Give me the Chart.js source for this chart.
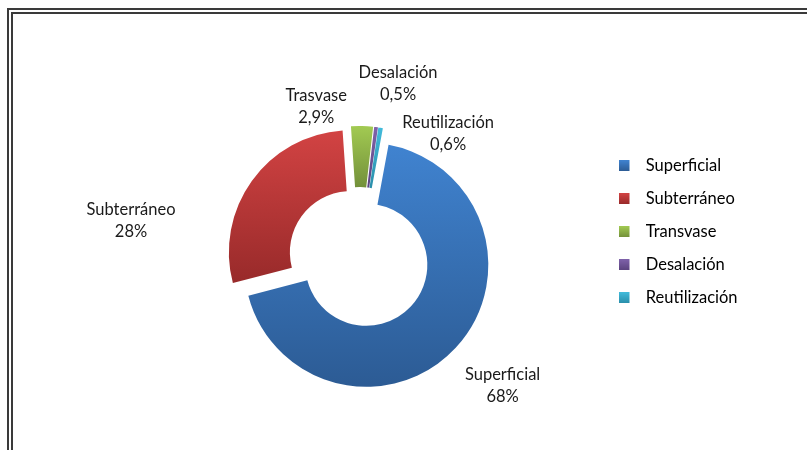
<!DOCTYPE html>
<html>
<head>
<meta charset="utf-8">
<script src="https://cdn.jsdelivr.net/npm/chart.js@4.4.1/dist/chart.umd.min.js"></script>
<style>
  html, body { margin: 0; padding: 0; background: #fff; }
  #marco { position: relative; width: 807px; height: 450px; overflow: hidden; }
  #borde { position: absolute; left: 7px; top: 8px; width: 1000px; height: 700px;
           border-left: 6px double #3a3a3a; border-top: 6px double #3a3a3a; }
  #origenAgua { position: absolute; left: 0; top: 0; }
</style>
</head>
<body>
<div id="marco">
  <div id="borde"></div>
  <canvas id="origenAgua" width="807" height="450"></canvas>
</div>
<script>
// Origen del agua (%)
const categorias = ['Superficial', 'Subterráneo', 'Transvase', 'Desalación', 'Reutilización'];
const etiquetas = ['Superficial', 'Subterráneo', 'Trasvase', 'Desalación', 'Reutilización'];
const porcentajes = [68, 28, 2.9, 0.5, 0.6];

// colores (degradado de arriba a abajo en cada porción)
const colorClaro = ['#4083d0', '#d24343', '#a2ca52', '#7f62aa', '#42bbdb'];
const colorOscuro = ['#2c5b94', '#982a2a', '#73903a', '#5b437e', '#2a8eaa'];

// posición de cada rótulo: [ángulo desde las 12 en grados, distancia al centro]
const posRotulos = [[131.6, 192], [279.3, 231], [344.2, 157], [12.6, 179], [35.6, 153]];

const separacion = 10; // cuánto se separa cada porción del centro
const fuente = 'Lato, "Open Sans", sans-serif';
const tamFuente = 16.5;
const sepLeyenda = 33 - tamFuente;
const anchoSimbolo = 19;
const inicioLeyenda = 602; // borde izquierdo de la leyenda

function formatoPct(v) {
  return (Number.isInteger(v) ? String(v) : v.toFixed(1).replace('.', ',')) + '%';
}

// ancho que ocupará la leyenda, para dejar la dona centrada a su izquierda
const medidor = document.createElement('canvas').getContext('2d');
medidor.font = tamFuente + 'px ' + fuente;
const anchoTexto = Math.max(...categorias.map(c => medidor.measureText(c).width));
const anchoLeyenda = sepLeyenda + anchoSimbolo + tamFuente / 2 + anchoTexto + 10;

// cuadradito de la leyenda con su degradado, dejando hueco a la derecha
function cuadroLeyenda(i) {
  const c = document.createElement('canvas');
  c.width = anchoSimbolo;
  c.height = 11;
  const g = c.getContext('2d');
  const grad = g.createLinearGradient(0, 0, 0, 11);
  grad.addColorStop(0, colorClaro[i]);
  grad.addColorStop(1, colorOscuro[i]);
  g.fillStyle = grad;
  g.fillRect(0, 0, 11, 11);
  return c;
}

// separa las porciones y les pone el degradado vertical
const separar = {
  id: 'separar',
  afterDatasetUpdate(chart, args) {
    const ctx = chart.ctx;
    args.meta.data.forEach((arc, i) => {
      const medio = (arc.startAngle + arc.endAngle) / 2;
      arc.x += Math.cos(medio) * separacion;
      arc.y += Math.sin(medio) * separacion;
      let arriba = Infinity, abajo = -Infinity;
      for (let k = 0; k <= 60; k++) {
        const a = arc.startAngle + (arc.endAngle - arc.startAngle) * k / 60;
        [arc.innerRadius, arc.outerRadius].forEach(r => {
          const y = arc.y + Math.sin(a) * r;
          arriba = Math.min(arriba, y);
          abajo = Math.max(abajo, y);
        });
      }
      const grad = ctx.createLinearGradient(0, arriba, 0, abajo);
      grad.addColorStop(0, colorClaro[i]);
      grad.addColorStop(1, colorOscuro[i]);
      arc.options.backgroundColor = grad;
    });
  }
};

// rótulos de dos líneas: nombre y porcentaje
const rotulos = {
  id: 'rotulos',
  afterDatasetsDraw(chart) {
    const {ctx, chartArea} = chart;
    const cx = (chartArea.left + chartArea.right) / 2;
    const cy = (chartArea.top + chartArea.bottom) / 2;
    ctx.save();
    ctx.font = tamFuente + 'px ' + fuente;
    ctx.fillStyle = '#1a1a1a';
    ctx.textAlign = 'center';
    ctx.textBaseline = 'middle';
    porcentajes.forEach((v, i) => {
      const [ang, dist] = posRotulos[i];
      const rad = ang * Math.PI / 180;
      const x = cx + Math.sin(rad) * dist;
      const y = cy - Math.cos(rad) * dist;
      ctx.fillText(etiquetas[i], x, y - 11);
      ctx.fillText(formatoPct(v), x, y + 11);
    });
    ctx.restore();
  }
};

new Chart(document.getElementById('origenAgua'), {
  type: 'doughnut',
  data: {
    labels: categorias,
    datasets: [{
      data: porcentajes,
      backgroundColor: colorClaro,
      borderWidth: 0
    }]
  },
  options: {
    responsive: false,
    animation: false,
    events: [],
    rotation: 10.5,
    radius: 122,
    cutout: '50%',
    layout: {
      padding: { top: 141, bottom: 75, left: 116, right: 807 - inicioLeyenda - anchoLeyenda }
    },
    plugins: {
      tooltip: { enabled: false },
      legend: {
        position: 'right',
        align: 'start',
        labels: {
          usePointStyle: true,
          pointStyleWidth: anchoSimbolo,
          boxHeight: 11,
          padding: sepLeyenda,
          color: '#1a1a1a',
          font: { size: tamFuente, family: fuente },
          generateLabels() {
            return categorias.map((c, i) => ({
              text: c,
              pointStyle: cuadroLeyenda(i),
              fillStyle: colorClaro[i],
              lineWidth: 0,
              hidden: false,
              index: i
            }));
          }
        }
      }
    }
  },
  plugins: [separar, rotulos]
});
</script>
</body>
</html>
